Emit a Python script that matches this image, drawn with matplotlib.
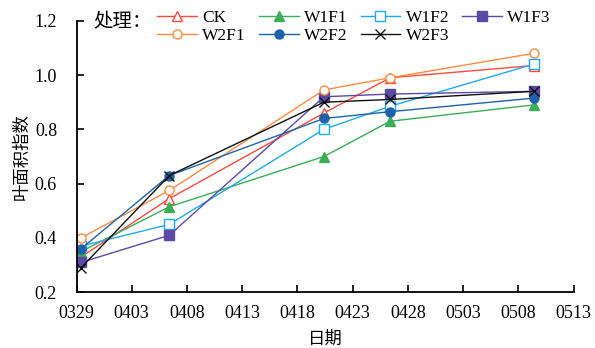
import datetime
import matplotlib
matplotlib.use("Agg")
from matplotlib import pyplot as plt

plt.rcParams['font.family'] = ['Liberation Serif', 'Noto Sans CJK SC']

# 取样日期与叶面积指数
dates = ["0329", "0406", "0420", "0426", "0509"]
ck   = [0.33, 0.545, 0.86, 0.99, 1.035]
w1f1 = [0.35, 0.515, 0.70, 0.83, 0.89]
w1f2 = [0.37, 0.45, 0.80, 0.885, 1.04]
w1f3 = [0.31, 0.41, 0.92, 0.93, 0.94]
w2f1 = [0.40, 0.575, 0.945, 0.99, 1.08]
w2f2 = [0.36, 0.63, 0.84, 0.865, 0.915]
w2f3 = [0.29, 0.63, 0.90, 0.91, 0.94]
tick_labels = ["0329", "0403", "0408", "0413", "0418", "0423", "0428", "0503", "0508", "0513"]

def to_day(s):
    return datetime.date(2020, int(s[:2]), int(s[2:])).timetuple().tm_yday

x = [to_day(d) for d in dates]
x0 = to_day(tick_labels[0]) - 0.4
ticks = [x0 + 5 * i for i in range(len(tick_labels))]

fig = plt.figure(figsize=(5.95, 3.48), dpi=100)
ax = fig.add_axes([0.1286, 0.160, 0.8353, 0.7805])

series = [
    ("CK", ck, "#ff4a3d", "^", "none"),
    ("W1F1", w1f1, "#3aae55", "^", "full"),
    ("W1F2", w1f2, "#1eaaf0", "s", "none"),
    ("W1F3", w1f3, "#5a4aa6", "s", "full"),
    ("W2F1", w2f1, "#ff8a40", "o", "none"),
    ("W2F2", w2f2, "#1d62aa", "o", "full"),
    ("W2F3", w2f3, "#111111", "x", "full"),
]
lines = {}
for name, y, c, m, fill in series:
    face = "white" if fill == "none" else c
    ln, = ax.plot(x, y, color=c, lw=1.0, marker=m, markersize=6.5,
                  markerfacecolor=face, markeredgecolor=c, markeredgewidth=1.0)
    lines[name] = ln

ax.set_xlim(ticks[0], ticks[-1])
ax.set_ylim(0.2, 1.2)
ax.set_xticks(ticks)
ax.set_xticklabels(tick_labels)
ax.set_yticks([0.2, 0.4, 0.6, 0.8, 1.0, 1.2])
ax.set_yticklabels(["0.2", "0.4", "0.6", "0.8", "1.0", "1.2"])
ax.tick_params(direction="in", length=5, width=1.2, labelsize=13, colors="black")
ax.tick_params(axis="x", pad=9)
ax.tick_params(axis="y", pad=14)
for s in ["top", "right"]:
    ax.spines[s].set_visible(False)
for s in ["left", "bottom"]:
    ax.spines[s].set_linewidth(1.3)

ax.set_xlabel("日期", fontsize=12.5, labelpad=7)
ax.set_ylabel("叶面积指数", fontsize=12.5, labelpad=3)

# 图例按行排列：第一行 W1，第二行 W2
order = ["CK", "W2F1", "W1F1", "W2F2", "W1F2", "W2F3", "W1F3"]
fig.text(93 / 595, 1 - 21 / 348, "处理：", fontsize=14, va="center", ha="left")
fig.legend([lines[k] for k in order], order, ncol=4, frameon=False,
           loc="upper left", bbox_to_anchor=(150 / 595, 1 - 3 / 348),
           fontsize=12.5, handlelength=2.3, handletextpad=0.3,
           columnspacing=0.75, labelspacing=0.08, borderaxespad=0)

fig.savefig("out.png", dpi=100)
